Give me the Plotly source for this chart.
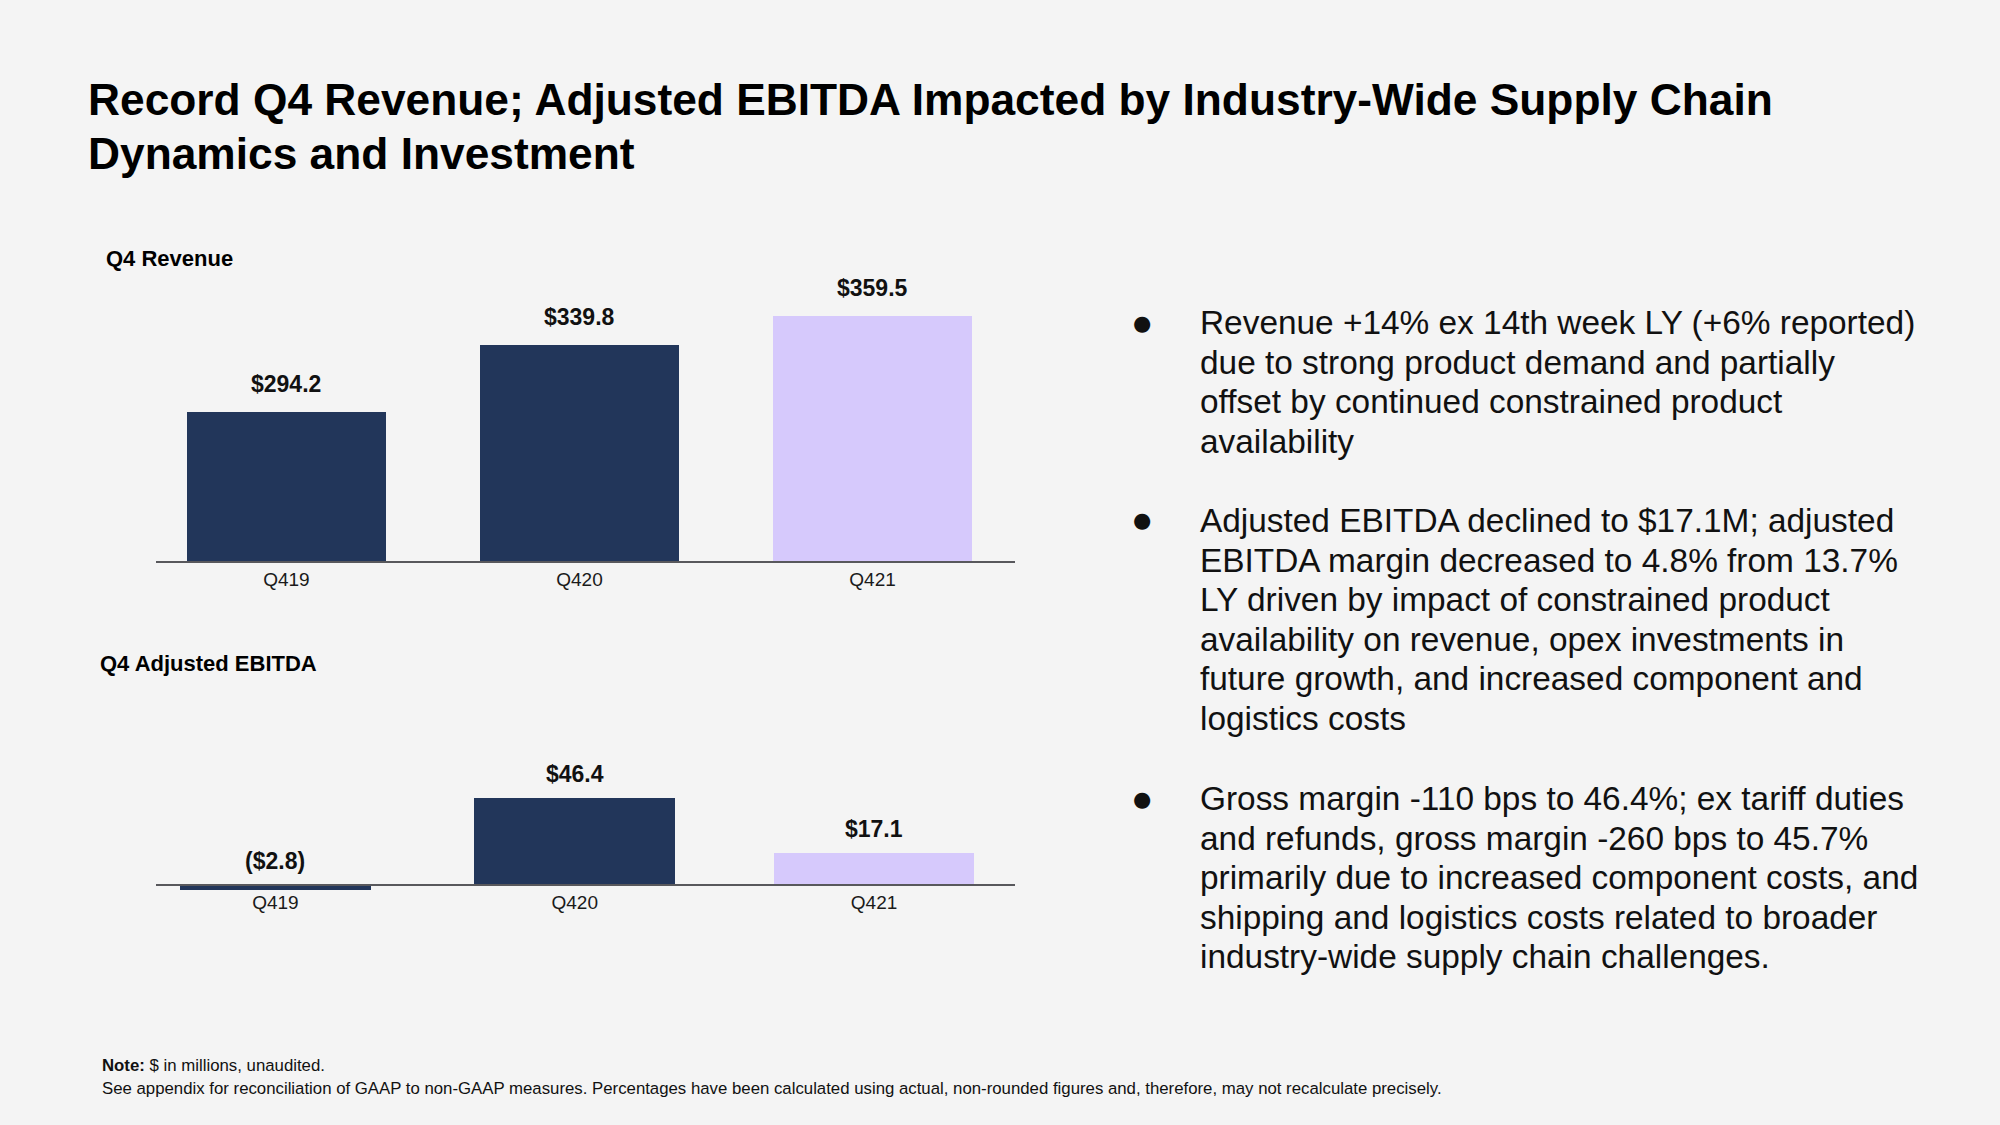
import plotly.graph_objects as go

# ---- data ----
quarters = ["Q419", "Q420", "Q421"]
revenue = [294.2, 339.8, 359.5]
revenue_labels = ["$294.2", "$339.8", "$359.5"]
ebitda = [-2.8, 46.4, 17.1]
ebitda_labels = ["($2.8)", "$46.4", "$17.1"]

title_lines = [
    "Record Q4 Revenue; Adjusted EBITDA Impacted by Industry-Wide Supply Chain",
    "Dynamics and Investment",
]
bullets = [
    ["Revenue +14% ex 14th week LY (+6% reported)",
     "due to strong product demand and partially",
     "offset by continued constrained product",
     "availability"],
    ["Adjusted EBITDA declined to $17.1M; adjusted",
     "EBITDA margin decreased to 4.8% from 13.7%",
     "LY driven by impact of constrained product",
     "availability on revenue, opex investments in",
     "future growth, and increased component and",
     "logistics costs"],
    ["Gross margin -110 bps to 46.4%; ex tariff duties",
     "and refunds, gross margin -260 bps to 45.7%",
     "primarily due to increased component costs, and",
     "shipping and logistics costs related to broader",
     "industry-wide supply chain challenges."],
]
note_lines = [
    "<b>Note:</b> $ in millions, unaudited.",
    "See appendix for reconciliation of GAAP to non-GAAP measures. Percentages have been calculated using actual, non-rounded figures and, therefore, may not recalculate precisely.",
]

NAVY = "#22365a"
LAV = "#d6c9fc"
BG = "#f4f4f4"
W, H = 2000, 1125
FONT = "Liberation Sans, Arial, sans-serif"

def px(x):
    return x / W

def py(y):
    return 1 - y / H

colors = [NAVY, NAVY, LAV]

fig = go.Figure()
fig.add_trace(go.Bar(x=quarters, y=revenue, marker=dict(color=colors, line=dict(width=0)),
                     width=0.68, xaxis="x", yaxis="y", hoverinfo="skip"))
fig.add_trace(go.Bar(x=quarters, y=ebitda, marker=dict(color=colors, line=dict(width=0)),
                     width=[0.64, 0.67, 0.67], xaxis="x2", yaxis="y2", hoverinfo="skip"))

# revenue axis geometry
rev_base_px = 561.7
rev_k = 1.468
rev_bottom = 192
rev_top_px = 225
rev_top = rev_bottom + (rev_base_px - rev_top_px) / rev_k

eb_zero_px = 885
eb_k = 1.88
eb_bot_px, eb_top_px = 930, 740
eb_bottom = -(eb_bot_px - eb_zero_px) / eb_k
eb_top = (eb_zero_px - eb_top_px) / eb_k

axis_common = dict(showgrid=False, zeroline=False, showline=True, linecolor="#58585c",
                   linewidth=2, ticks="", tickfont=dict(family=FONT, size=19, color="#1a1a1a"),
                   type="category", fixedrange=True)

fig.update_layout(
    width=W, height=H,
    margin=dict(l=0, r=0, t=0, b=0),
    paper_bgcolor=BG, plot_bgcolor="rgba(0,0,0,0)",
    showlegend=False,
    bargap=0,
    xaxis=dict(domain=[px(156), px(1015)], anchor="free", position=py(rev_base_px),
               range=[-0.445, 2.486], **axis_common),
    yaxis=dict(domain=[py(rev_base_px), py(rev_top_px)], range=[rev_bottom, rev_top],
               visible=False, anchor="x", fixedrange=True),
    xaxis2=dict(domain=[px(156), px(1015)], anchor="free", position=py(eb_zero_px),
                range=[-0.399, 2.471], **axis_common),
    yaxis2=dict(domain=[py(eb_bot_px), py(eb_top_px)], range=[eb_bottom, eb_top],
                visible=False, anchor="x2", fixedrange=True),
)

ann = []
# value labels
for q, v, t in zip(quarters, revenue, revenue_labels):
    ann.append(dict(x=q, y=v, xref="x", yref="y", text=t, showarrow=False,
                    yanchor="middle", yshift=28,
                    font=dict(family=FONT, size=23, color="#111111", weight="bold")))
for q, v, t in zip(quarters, ebitda, ebitda_labels):
    ann.append(dict(x=q, y=max(v, 0), xref="x2", yref="y2", text=t, showarrow=False,
                    yanchor="middle", yshift=24,
                    font=dict(family=FONT, size=23, color="#111111", weight="bold")))

# title
for i, line in enumerate(title_lines):
    ann.append(dict(x=px(86), y=py(99.5 + i * 54.5), xref="paper", yref="paper",
                    xanchor="left", yanchor="middle", text=f"<b>{line}</b>", showarrow=False,
                    font=dict(family=FONT, size=44.3, color="#000000")))

# chart subtitles
ann.append(dict(x=px(104), y=py(258), xref="paper", yref="paper", xanchor="left",
                yanchor="middle", text="<b>Q4 Revenue</b>", showarrow=False,
                font=dict(family=FONT, size=22, color="#000000")))
ann.append(dict(x=px(98), y=py(663), xref="paper", yref="paper", xanchor="left",
                yanchor="middle", text="<b>Q4 Adjusted EBITDA</b>", showarrow=False,
                font=dict(family=FONT, size=22, color="#000000")))

# bullets
bullet_starts = [322.7, 520.4, 798.5]
line_h = 39.6
for start, lines in zip(bullet_starts, bullets):
    ann.append(dict(x=px(1141.6), y=py(start), xref="paper", yref="paper", xanchor="center",
                    yanchor="middle", text="●", showarrow=False,
                    font=dict(family="DejaVu Sans", size=21, color="#111111")))
    for j, line in enumerate(lines):
        ann.append(dict(x=px(1198), y=py(start + j * line_h), xref="paper", yref="paper",
                        xanchor="left", yanchor="middle", text=line, showarrow=False,
                        font=dict(family=FONT, size=33.4, color="#111111")))

# notes
for i, line in enumerate(note_lines):
    ann.append(dict(x=px(100), y=py(1065 + i * 23), xref="paper", yref="paper",
                    xanchor="left", yanchor="middle", text=line, showarrow=False,
                    font=dict(family=FONT, size=16.8, color="#111111")))

fig.update_layout(annotations=ann)
fig.write_html("out.html")
